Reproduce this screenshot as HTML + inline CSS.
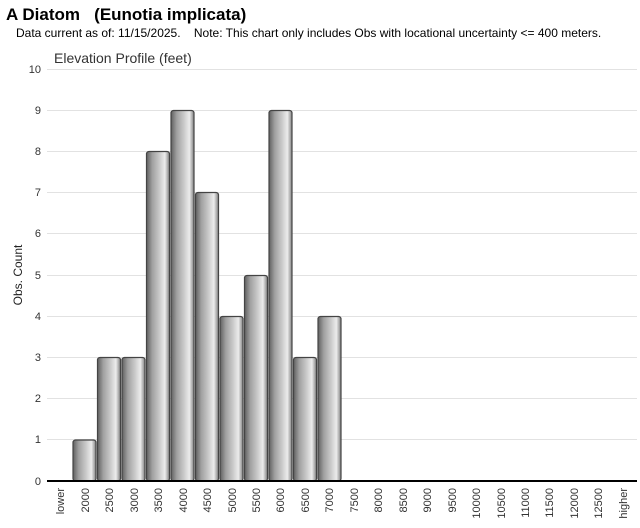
<!DOCTYPE html>
<html><head><meta charset="utf-8"><style>
body{margin:0;background:#fff;width:640px;height:523px;overflow:hidden;font-family:"Liberation Sans",Arial,sans-serif}
</style></head><body>
<svg width="640" height="523" xmlns="http://www.w3.org/2000/svg" font-family="Liberation Sans, Arial, sans-serif">
<defs>
<linearGradient id="g" x1="0" x2="1" y1="0" y2="0">
<stop offset="0" stop-color="#606060"/>
<stop offset="0.25" stop-color="#a0a0a0"/>
<stop offset="0.55" stop-color="#c8c8c8"/>
<stop offset="0.8" stop-color="#ececec"/>
<stop offset="1" stop-color="#808080"/>
</linearGradient>
</defs>
<text x="6" y="20" font-size="17" font-weight="bold" fill="#000" xml:space="preserve">A Diatom   (Eunotia implicata)</text>
<text x="16" y="37" font-size="12" fill="#000" xml:space="preserve">Data current as of: 11/15/2025.    Note: This chart only includes Obs with locational uncertainty &lt;= 400 meters.</text>
<text x="54" y="63" font-size="14" fill="#333">Elevation Profile (feet)</text>
<g stroke="#e2e2e2" stroke-width="1">
<line x1="47" x2="637" y1="69.5" y2="69.5"/><line x1="47" x2="637" y1="110.5" y2="110.5"/>
<line x1="47" x2="637" y1="151.5" y2="151.5"/><line x1="47" x2="637" y1="192.5" y2="192.5"/>
<line x1="47" x2="637" y1="233.5" y2="233.5"/><line x1="47" x2="637" y1="275.5" y2="275.5"/>
<line x1="47" x2="637" y1="316.5" y2="316.5"/><line x1="47" x2="637" y1="357.5" y2="357.5"/>
<line x1="47" x2="637" y1="398.5" y2="398.5"/><line x1="47" x2="637" y1="439.5" y2="439.5"/>
</g>
<g font-size="11" fill="#333" text-anchor="end">
<text x="41" y="73">10</text><text x="41" y="114">9</text><text x="41" y="155">8</text>
<text x="41" y="196">7</text><text x="41" y="237">6</text><text x="41" y="279">5</text>
<text x="41" y="320">4</text><text x="41" y="361">3</text><text x="41" y="402">2</text>
<text x="41" y="443">1</text><text x="41" y="485">0</text>
</g>
<text transform="translate(22,275) rotate(-90)" font-size="12" fill="#222" text-anchor="middle">Obs. Count</text>
<g fill="url(#g)" stroke="#444" stroke-width="1.2">
<rect x="73" y="440" width="23" height="41" rx="2.5"/>
<rect x="97.5" y="357.5" width="23" height="123.5" rx="2.5"/>
<rect x="122" y="357.5" width="23" height="123.5" rx="2.5"/>
<rect x="146.5" y="151.5" width="23" height="329.5" rx="2.5"/>
<rect x="171" y="110.5" width="23" height="370.5" rx="2.5"/>
<rect x="195.5" y="192.5" width="23" height="288.5" rx="2.5"/>
<rect x="220" y="316.5" width="23" height="164.5" rx="2.5"/>
<rect x="244.5" y="275.5" width="23" height="205.5" rx="2.5"/>
<rect x="269" y="110.5" width="23" height="370.5" rx="2.5"/>
<rect x="293.5" y="357.5" width="23" height="123.5" rx="2.5"/>
<rect x="318" y="316.5" width="23" height="164.5" rx="2.5"/>
</g>
<line x1="47" x2="637" y1="481" y2="481" stroke="#000" stroke-width="2"/>
<g font-size="11" fill="#333" text-anchor="end">
<text transform="translate(64,488) rotate(-90)">lower</text>
<text transform="translate(89,488) rotate(-90)">2000</text>
<text transform="translate(113,488) rotate(-90)">2500</text>
<text transform="translate(138,488) rotate(-90)">3000</text>
<text transform="translate(162,488) rotate(-90)">3500</text>
<text transform="translate(187,488) rotate(-90)">4000</text>
<text transform="translate(211,488) rotate(-90)">4500</text>
<text transform="translate(236,488) rotate(-90)">5000</text>
<text transform="translate(260,488) rotate(-90)">5500</text>
<text transform="translate(284,488) rotate(-90)">6000</text>
<text transform="translate(309,488) rotate(-90)">6500</text>
<text transform="translate(333,488) rotate(-90)">7000</text>
<text transform="translate(358,488) rotate(-90)">7500</text>
<text transform="translate(382,488) rotate(-90)">8000</text>
<text transform="translate(407,488) rotate(-90)">8500</text>
<text transform="translate(431,488) rotate(-90)">9000</text>
<text transform="translate(456,488) rotate(-90)">9500</text>
<text transform="translate(480,488) rotate(-90)">10000</text>
<text transform="translate(505,488) rotate(-90)">10500</text>
<text transform="translate(529,488) rotate(-90)">11000</text>
<text transform="translate(553,488) rotate(-90)">11500</text>
<text transform="translate(578,488) rotate(-90)">12000</text>
<text transform="translate(602,488) rotate(-90)">12500</text>
<text transform="translate(627,488) rotate(-90)">higher</text>
</g>
</svg>
</body></html>
